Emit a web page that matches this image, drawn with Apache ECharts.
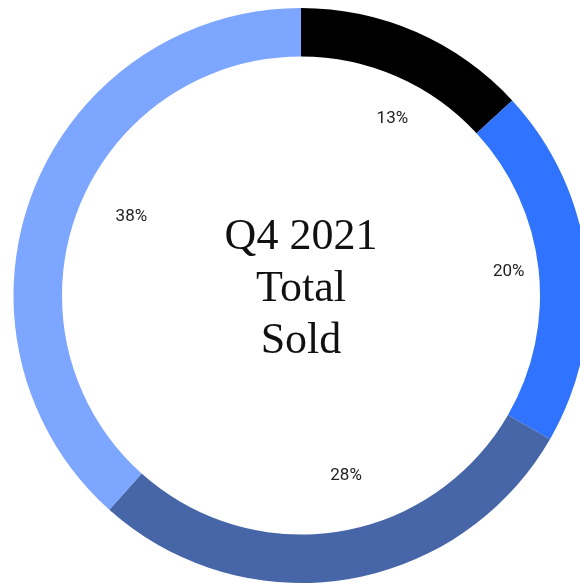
<!DOCTYPE html>
<html>
<head>
<meta charset="utf-8">
<script src="https://cdn.jsdelivr.net/npm/echarts@6/dist/echarts.min.js"></script>
<style>
html,body{margin:0;padding:0;background:#fff;}
#chart{width:580px;height:585px;}
</style>
</head>
<body>
<div id="chart"></div>
<script>
var categories = ['A', 'B', 'C', 'D'];
var shares = [13, 20, 28, 38];
var centerTitle = 'Q4 2021\nTotal\nSold';

var colors = ['#000000', '#3073FF', '#4666A8', '#7CA6FF'];
var labelOffsets = [[10, 9], [6, -1], [13, -20], [20, -6]];

var chart = echarts.init(document.getElementById('chart'), null, {renderer: 'canvas'});

var ringData = categories.map(function (c, i) {
  return {name: c, value: shares[i], itemStyle: {color: colors[i]}};
});
var labelData = categories.map(function (c, i) {
  return {name: c, value: shares[i], label: {offset: labelOffsets[i]}};
});

chart.setOption({
  animation: false,
  backgroundColor: '#ffffff',
  graphic: [{
    type: 'text',
    x: 301,
    y: 289,
    style: {
      text: centerTitle,
      x: 0,
      y: 0,
      textAlign: 'center',
      textVerticalAlign: 'middle',
      fontFamily: 'Liberation Serif',
      fontSize: 44,
      lineHeight: 52,
      fill: '#111111'
    }
  }],
  series: [
    {
      type: 'pie',
      center: [301, 295.5],
      radius: [239, 287.5],
      startAngle: 90,
      clockwise: true,
      silent: true,
      label: {show: false},
      labelLine: {show: false},
      itemStyle: {borderWidth: 0},
      data: ringData
    },
    {
      type: 'pie',
      center: [301, 295.5],
      radius: [170, 230],
      startAngle: 90,
      clockwise: true,
      silent: true,
      itemStyle: {color: 'rgba(0,0,0,0)', borderWidth: 0},
      label: {
        show: true,
        position: 'inside',
        formatter: '{c}%',
        fontFamily: 'Roboto',
        fontWeight: 400,
        fontSize: 17,
        color: '#222222'
      },
      labelLine: {show: false},
      data: labelData
    }
  ]
});
</script>
</body>
</html>
